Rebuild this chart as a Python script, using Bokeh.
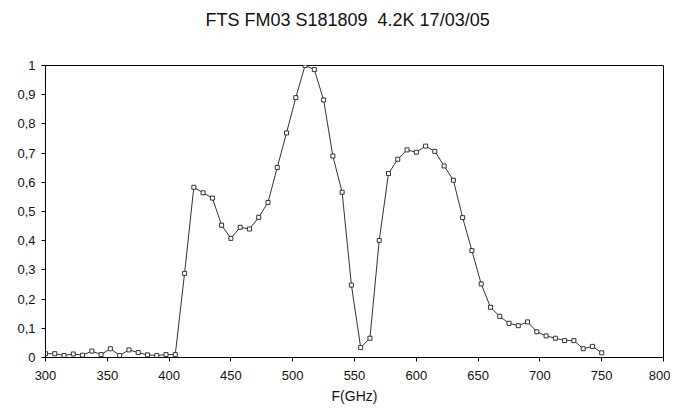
from bokeh.plotting import figure
from bokeh.models import FixedTicker, CustomJSTickFormatter, Range1d, Title
from bokeh.embed import file_html
from bokeh.resources import INLINE

# Frequency samples (GHz)
freq = [300.0, 307.5, 315.0, 322.5, 330.0, 337.5, 345.0, 352.5, 360.0, 367.5,
        375.0, 382.5, 390.0, 397.5, 405.0, 412.5, 420.0, 427.5, 435.0, 442.5,
        450.0, 457.5, 465.0, 472.5, 480.0, 487.5, 495.0, 502.5, 510.0, 517.5,
        525.0, 532.5, 540.0, 547.5, 555.0, 562.5, 570.0, 577.5, 585.0, 592.5,
        600.0, 607.5, 615.0, 622.5, 630.0, 637.5, 645.0, 652.5, 660.0, 667.5,
        675.0, 682.5, 690.0, 697.5, 705.0, 712.5, 720.0, 727.5, 735.0, 742.5,
        750.0]
# Normalised transmission
trans = [0.013, 0.013, 0.007, 0.012, 0.008, 0.022, 0.010, 0.030, 0.007, 0.026,
         0.017, 0.009, 0.007, 0.010, 0.010, 0.288, 0.583, 0.564, 0.546, 0.453,
         0.408, 0.446, 0.440, 0.480, 0.531, 0.651, 0.769, 0.890, 1.000, 0.986,
         0.882, 0.690, 0.566, 0.248, 0.034, 0.066, 0.401, 0.630, 0.679, 0.711,
         0.703, 0.724, 0.706, 0.656, 0.607, 0.479, 0.366, 0.252, 0.172, 0.141,
         0.117, 0.109, 0.122, 0.088, 0.074, 0.066, 0.058, 0.058, 0.030, 0.038,
         0.016]

x_ticks = [300, 350, 400, 450, 500, 550, 600, 650, 700, 750, 800]
y_ticks = [0, 0.1, 0.2, 0.3, 0.4, 0.5, 0.6, 0.7, 0.8, 0.9, 1.0]
title_text = "FTS FM03 S181809\u00a0\u00a04.2K 17/03/05"

FONT = "Liberation Sans"

p = figure(width=670, height=407, output_backend="svg", toolbar_location=None,
           x_range=Range1d(300, 800), y_range=Range1d(0, 1),
           min_border_left=45, min_border_right=7, min_border_top=65,
           min_border_bottom=50)

p.title.text = title_text
p.title.align = "left"
p.title.offset = 160
p.title.standoff = 14
p.title.text_font = FONT
p.title.text_font_size = "18px"
p.title.text_font_style = "normal"
p.title.text_color = "#111111"

# empty spacer between the title and the frame
p.add_layout(Title(text=" ", text_font_size="1px", standoff=26), "above")

p.line(freq, trans, line_color="#333333", line_width=1)
p.scatter(freq, trans, marker="square", size=4, line_color="#333333",
          fill_color="white", line_width=1)

p.xgrid.visible = False
p.ygrid.visible = False
p.outline_line_color = "black"
p.outline_line_width = 1
p.background_fill_color = "white"
p.border_fill_color = "white"

p.xaxis.ticker = FixedTicker(ticks=x_ticks)
p.yaxis.ticker = FixedTicker(ticks=y_ticks)
p.yaxis.formatter = CustomJSTickFormatter(
    code="var s = (Math.round(tick*10)/10).toString(); return s.replace('.', ',');")

for ax in (p.xaxis, p.yaxis):
    ax.axis_line_color = "black"
    ax.major_tick_line_color = "black"
    ax.minor_tick_line_color = None
    ax.major_tick_in = 0
    ax.major_tick_out = 4
    ax.major_label_text_font = FONT
    ax.major_label_text_font_size = "13px"
    ax.major_label_text_color = "#111111"

p.yaxis.major_label_standoff = 6
p.xaxis.axis_label = "F(GHz)"
p.xaxis.axis_label_text_font = FONT
p.xaxis.axis_label_text_font_size = "14px"
p.xaxis.axis_label_text_font_style = "normal"
p.xaxis.axis_label_text_color = "#111111"
p.xaxis.major_label_standoff = 9
p.xaxis.axis_label_standoff = 5

open("out.html", "w").write(file_html(p, INLINE))
